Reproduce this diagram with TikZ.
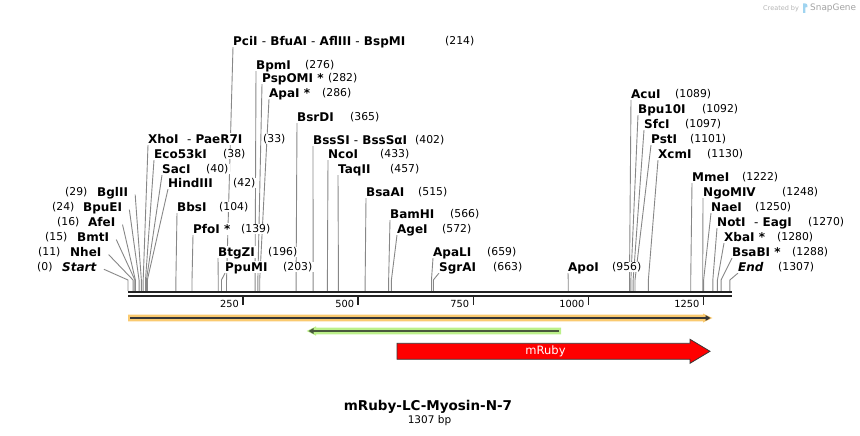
\documentclass[tikz,border=0pt]{standalone}
\usepackage{fontspec}
\setmainfont{DejaVu Sans}
\usetikzlibrary{arrows.meta,calc}
\pgfdeclarelayer{bg}
\pgfsetlayers{bg,main}
\definecolor{cutgray}{RGB}{135,135,135}
\definecolor{axisblack}{RGB}{34,34,34}
\definecolor{orangeband}{RGB}{250,202,112}
\definecolor{greenband}{RGB}{188,240,138}
\definecolor{featline}{RGB}{55,55,55}
\definecolor{greenline}{RGB}{72,88,60}
\definecolor{wmgray}{RGB}{180,180,180}
\definecolor{wmblue}{RGB}{160,212,240}
\tikzset{
  enz/.style={fill=white, inner xsep=1.5pt, inner ysep=1.5pt, xshift=-1.5pt, anchor=west, font=\fontsize{12}{12}\selectfont\bfseries, text height=8.75pt, text depth=0pt},
  num/.style={fill=white, inner xsep=1.5pt, inner ysep=1.5pt, xshift=-1.5pt, anchor=west, font=\fontsize{10.8}{12}\selectfont, text height=7.8pt, text depth=0pt},
  ticklab/.style={inner sep=0pt, anchor=east, font=\fontsize{9.8}{10}\selectfont, text height=7pt, text depth=0pt},
  cut/.style={draw=cutgray, line width=0.9pt},
}
% right-hand label: #1 site (id), #2 name x, #3 y, #4 name, #5 number x
\newcommand\rlab[5]{%
  \node[enz] (n#1) at (#2,#3) {#4};
  \node[num] (m#1) at (#5,#3) {(#1)};
  \coordinate (s#1) at ({128+0.4605*#1},291);
  \coordinate (b#1) at ({128+0.4605*#1},280);
  \begin{pgfonlayer}{bg}
  \draw[cut] ([xshift=1.5pt]n#1.south west) -- (b#1) -- (s#1);
  \end{pgfonlayer}
}
% left-hand label: #1 site (id), #2 number x, #3 y, #4 name, #5 name x
\newcommand\llab[5]{%
  \node[num] (m#1) at (#2,#3) {(#1)};
  \node[enz] (n#1) at (#5,#3) {#4};
  \coordinate (s#1) at ({128+0.4605*#1},291);
  \coordinate (b#1) at ({128+0.4605*#1},280);
  \begin{pgfonlayer}{bg}
  \draw[cut] ([xshift=5.5pt,yshift=3.5pt]n#1.south east) -- (b#1) -- (s#1);
  \end{pgfonlayer}
}
\begin{document}
\begin{tikzpicture}[x=1pt,y=-1pt]
\useasboundingbox (0,0) rectangle (860,436);

% watermark
\node[inner sep=0pt, anchor=base west, text=wmgray, font=\fontsize{6.5}{7}\selectfont] (wm1) at (763,10.3) {Created by};
\fill[wmblue] (803,13) -- (803,3.5) .. controls (806,3) and (808,4) .. (807.5,7) -- (805.3,7.5) -- (805.3,13) -- cycle;
\node[inner sep=0pt, anchor=base west, text=wmgray!90!black, font=\fontsize{8.9}{9}\selectfont] (wm2) at (810,11) {SnapGene};

% left labels
\llab{0}{37}{266.7}{\textit{Start}}{62}
\llab{11}{38}{252}{NheI}{70}
\llab{15}{45}{237}{BmtI}{77}
\llab{16}{57}{222}{AfeI}{88}
\llab{24}{52}{207}{BpuEI}{83}
\llab{29}{65}{192}{BglII}{97}

% right labels
\rlab{33}{148}{139}{XhoI\ \ \textmd{-} PaeR7I}{263}
\rlab{38}{154}{154}{Eco53kI}{223}
\rlab{40}{162}{169}{SacI}{206}
\rlab{42}{168}{183}{HindIII}{233}
\rlab{104}{177}{207}{BbsI}{219}
\rlab{139}{193}{229}{PfoI *}{241}
\rlab{196}{218}{252}{BtgZI}{268}
\rlab{203}{225}{267}{PpuMI}{283}
\rlab{214}{233}{41}{PciI \textmd{-} BfuAI \textmd{-} AflIII \textmd{-} BspMI}{445}
\rlab{276}{256}{65}{BpmI}{305}
\rlab{282}{262}{78}{PspOMI *}{328}
\rlab{286}{269}{93}{ApaI *}{322}
\rlab{365}{297}{117}{BsrDI}{350}
\rlab{402}{313}{140}{BssSI \textmd{-} BssSαI}{415}
\rlab{433}{328}{154}{NcoI}{380}
\rlab{457}{338}{169}{TaqII}{390}
\rlab{515}{366}{192}{BsaAI}{418}
\rlab{566}{390}{214}{BamHI}{450}
\rlab{572}{397}{229}{AgeI}{442}
\rlab{659}{433}{252}{ApaLI}{487}
\rlab{663}{439}{267}{SgrAI}{493}
\rlab{956}{568}{267}{ApoI}{612}
\rlab{1089}{631}{94}{AcuI}{675}
\rlab{1092}{638}{109}{Bpu10I}{702}
\rlab{1097}{644}{124}{SfcI}{685}
\rlab{1101}{651}{139}{PstI}{690}
\rlab{1130}{658}{154}{XcmI}{707}
\rlab{1222}{692}{177}{MmeI}{742}
\rlab{1248}{703}{192}{NgoMIV}{782}
\rlab{1250}{711}{207}{NaeI}{755}
\rlab{1270}{717}{222}{NotI\ \ \textmd{-} EagI}{808}
\rlab{1280}{724}{237}{XbaI *}{777}
\rlab{1288}{732}{252}{BsaBI *}{792}
\rlab{1307}{738}{267}{\textit{End}}{778}

% axis
\coordinate (axL) at (128,292);
\coordinate (axR) at (732,292);
\coordinate (axL2) at (128,296.2);
\coordinate (axR2) at (732,296.2);
\draw[axisblack, line width=2.6pt] (axL) -- (axR);
\draw[axisblack, line width=2.4pt] (axL2) -- (axR2);
\foreach \v in {250,500,750,1000,1250}{
  \draw[axisblack, line width=1.6pt] ({128+0.4605*\v},297) -- ({128+0.4605*\v},304.5);
  \node[ticklab] (t\v) at ({128+0.4605*\v-4},303.5) {\v};
}

% orange feature
\fill[orangeband] (128,314.7) -- (703,314.7) -- (703,313.5) -- (712.5,318) -- (703,322.5) -- (703,321.3) -- (128,321.3) -- cycle;
\draw[featline, line width=1.8pt, -{Triangle[length=5pt,width=5.5pt]}] (130,318) -- (710.5,318);

% green feature
\fill[greenband] (561,327.7) -- (316,327.7) -- (316,326.3) -- (306.5,331) -- (316,335.7) -- (316,334.3) -- (561,334.3) -- cycle;
\draw[greenline, line width=1.8pt, -{Triangle[length=5pt,width=5.5pt]}] (558.5,331) -- (308.5,331);

% mRuby
\draw[draw=featline, fill=red, line width=0.8pt] (397,343.3) -- (690,343.3) -- (690,339.3) -- (710,351.3) -- (690,363.3) -- (690,359.3) -- (397,359.3) -- cycle;
\node[text=white, inner sep=0pt, font=\fontsize{11.5}{12}\selectfont] (mruby) at (545.5,351.3) {mRuby};

% title
\node[inner sep=0pt, anchor=base, font=\fontsize{13.5}{14}\selectfont\bfseries] (title) at (428,410.7) {mRuby-LC-Myosin-N-7};
\node[inner sep=0pt, anchor=base, font=\fontsize{10.5}{11}\selectfont] (bp) at (429.5,423.4) {1307 bp};
\end{tikzpicture}
\end{document}
